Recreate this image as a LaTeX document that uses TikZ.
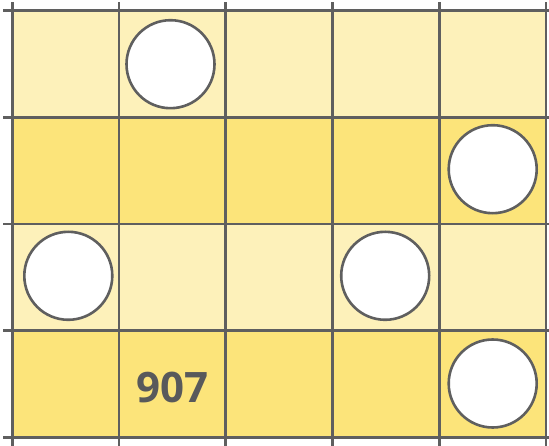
\documentclass[tikz,border=0pt]{standalone}
\usepackage{fontspec}
\setmainfont{Open Sans}
\definecolor{palecell}{RGB}{253,241,186}
\definecolor{darkcell}{RGB}{252,228,122}
\definecolor{gridgray}{RGB}{95,95,95}
\definecolor{textgray}{RGB}{88,89,91}
\tikzset{
  stone/.style={draw=gridgray, line width=2.6pt, fill=white, circle, minimum size=88pt, inner sep=0pt},
  gridline/.style={draw=gridgray, line width=2.8pt}
}
\begin{document}
\begin{tikzpicture}[x=1pt,y=1pt]
\useasboundingbox (0,0) rectangle (549,445);
% rows
\fill[palecell] (12.3,327.5) rectangle (546.05,434.1);
\fill[darkcell] (12.3,220.9) rectangle (546.05,327.5);
\fill[palecell] (12.3,114.3) rectangle (546.05,220.9);
\fill[darkcell] (12.3,7.7) rectangle (546.05,114.3);

% grid lines
\draw[gridline] (3,434.1) -- (555,434.1);
\draw[gridline] (3,327.5) -- (555,327.5);
\draw[gridline] (3,220.9) -- (555,220.9);
\draw[gridline] (3,114.3) -- (555,114.3);
\draw[gridline] (3,7.7) -- (555,7.7);
\draw[gridline] (12.3,-10) -- (12.3,443);
\draw[gridline] (119.05,-10) -- (119.05,443);
\draw[gridline] (225.8,-10) -- (225.8,443);
\draw[gridline] (332.55,-10) -- (332.55,443);
\draw[gridline] (439.3,-10) -- (439.3,443);
\draw[gridline] (546.05,-10) -- (546.05,443);

% stones
\node[stone] (s12) at (170.5,380.8) {};
\node[stone] (s25) at (492.7,275.8) {};
\node[stone] (s31) at (68.3,169.2) {};
\node[stone] (s34) at (385.2,169.2) {};
\node[stone] (s45) at (492.7,61.5) {};

\node[text=textgray, font=\bfseries\fontsize{42}{42}\selectfont] (num) at (172,58) {907};
\end{tikzpicture}
\end{document}
